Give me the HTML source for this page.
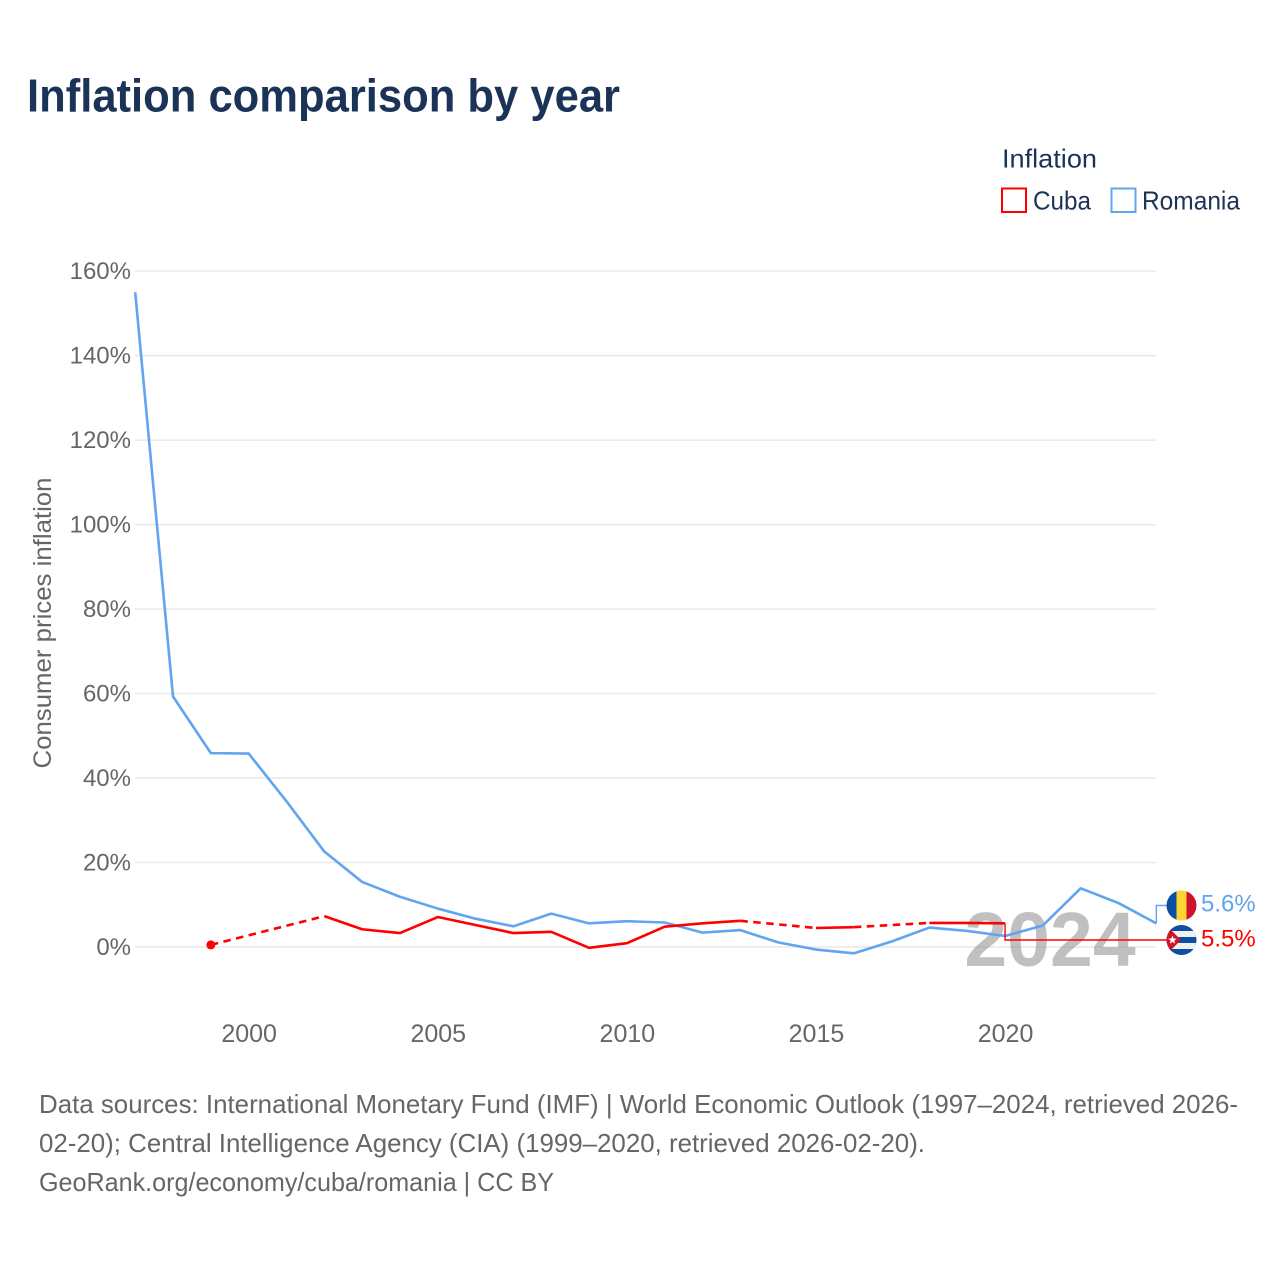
<!DOCTYPE html>
<html lang="en">
<head>
<meta charset="utf-8">
<title>Inflation comparison by year</title>
<style>
html,body{margin:0;padding:0;background:#fff;}
svg{display:block;font-family:"Liberation Sans",sans-serif;}
</style>
</head>
<body>
<svg id="chart" xmlns="http://www.w3.org/2000/svg" width="1280" height="1280" viewBox="0 0 1280 1280">
  <defs>
    <clipPath id="clip-ro"><circle cx="1181.5" cy="905.5" r="15"/></clipPath>
    <clipPath id="clip-cu"><circle cx="1181.5" cy="940" r="15"/></clipPath>
  </defs>
  <rect width="1280" height="1280" fill="#fff"/>
  <text x="27" y="111.500" font-size="46" font-weight="bold" fill="#1a3357" textLength="593" lengthAdjust="spacingAndGlyphs">Inflation comparison by year</text>

  <g>
    <text x="1002" y="167.500" font-size="26" fill="#1a3357" textLength="95" lengthAdjust="spacingAndGlyphs">Inflation</text>
    <g>
      <rect x="1002" y="188.500" width="24" height="23.500" fill="#fff" stroke="#ff0000" stroke-width="2"/>
      <text x="1033" y="209.500" font-size="26" fill="#1a3357" textLength="58" lengthAdjust="spacingAndGlyphs">Cuba</text>
    </g>
    <g>
      <rect x="1111.500" y="188.500" width="24" height="23.500" fill="#fff" stroke="#60a5ef" stroke-width="2"/>
      <text x="1142" y="209.500" font-size="26" fill="#1a3357" textLength="98" lengthAdjust="spacingAndGlyphs">Romania</text>
    </g>
  </g>

  <g id="grid"></g>
  <g id="yticks"></g>
  <g id="xticks"></g>
  <text transform="translate(51,623) rotate(-90)" text-anchor="middle" font-size="25" fill="#666666" textLength="291" lengthAdjust="spacingAndGlyphs">Consumer prices inflation</text>

  <text id="year-label" x="1050" y="966" text-anchor="middle" font-size="77" font-weight="bold" fill="#8c8c8c" fill-opacity="0.55">2024</text>

  <g id="series"></g>

  <g clip-path="url(#clip-ro)">
    <rect x="1166" y="890" width="10.500" height="31" fill="#0b4ea2"/>
    <rect x="1176.500" y="890" width="10" height="31" fill="#fcd535"/>
    <rect x="1186.500" y="890" width="10.500" height="31" fill="#d0112b"/>
  </g>
  <g clip-path="url(#clip-cu)">
    <rect x="1166" y="925" width="31" height="30" fill="#0b4ea2"/>
    <rect x="1166" y="931" width="31" height="6" fill="#f0f0f0"/>
    <rect x="1166" y="943" width="31" height="6" fill="#f0f0f0"/>
    <polygon points="1166,925 1181,940 1166,955" fill="#cf142b"/>
    <polygon points="1172.500,935.500 1173.600,938.500 1176.800,938.600 1174.300,940.600 1175.200,943.700 1172.500,941.900 1169.800,943.700 1170.700,940.600 1168.200,938.600 1171.400,938.500" fill="#ffffff"/>
  </g>
  <text id="label-ro" x="1201" y="911.500" font-size="24" fill="#60a5ef"></text>
  <text id="label-cu" x="1201" y="946.500" font-size="24" fill="#ff0000"></text>

  <g font-size="26" fill="#666666">
    <text x="39" y="1113" textLength="1199" lengthAdjust="spacingAndGlyphs">Data sources: International Monetary Fund (IMF) | World Economic Outlook (1997–2024, retrieved 2026-</text>
    <text x="39" y="1152" textLength="886" lengthAdjust="spacingAndGlyphs">02-20); Central Intelligence Agency (CIA) (1999–2020, retrieved 2026-02-20).</text>
    <text x="39" y="1191" textLength="515" lengthAdjust="spacingAndGlyphs">GeoRank.org/economy/cuba/romania | CC BY</text>
  </g>
</svg>
<script>
const years = [1997,1998,1999,2000,2001,2002,2003,2004,2005,2006,2007,2008,2009,2010,2011,2012,2013,2014,2015,2016,2017,2018,2019,2020,2021,2022,2023,2024];
const romaniaValues = [155,59.3,45.9,45.8,34.5,22.6,15.4,11.9,9.1,6.7,4.9,7.9,5.6,6.1,5.8,3.4,4.0,1.1,-0.6,-1.5,1.3,4.6,3.8,2.6,5.1,13.9,10.4,5.6];
const cubaValues = [null,null,0.5,null,null,7.3,4.2,3.3,7.1,5.2,3.3,3.6,-0.2,0.9,4.8,5.6,6.2,null,4.5,4.7,null,5.7,5.7,5.6,null,null,null,null];
const yTickValues = [0,20,40,60,80,100,120,140,160];
const xTickValues = [2000,2005,2010,2015,2020];
const romaniaEndLabel = '5.6%';
const cubaEndLabel = '5.5%';

const NS = 'http://www.w3.org/2000/svg';
const xScale = function (year) { return 135.2 + (year - 1997) * 37.82; };
const yScale = function (value) { return 947 - value * 4.224; };

function make(parent, tag, attrs) {
  const el = document.createElementNS(NS, tag);
  Object.keys(attrs).forEach(function (k) { el.setAttribute(k, attrs[k]); });
  parent.appendChild(el);
  return el;
}

const grid = document.getElementById('grid');
const yticks = document.getElementById('yticks');
yTickValues.forEach(function (v) {
  const line = make(grid, 'line', {x1: 135, x2: 1156, y1: yScale(v), y2: yScale(v), stroke: '#e9e9e9', 'stroke-width': 1.5});
  
  
  const label = make(yticks, 'text', {x: 131, y: yScale(v) + 8, 'text-anchor': 'end', 'font-size': 24, fill: '#666666'});
  
  
  label.textContent = v + '%';
});

const xticks = document.getElementById('xticks');
xTickValues.forEach(function (y) {
  const label = make(xticks, 'text', {x: xScale(y) + 0.5, y: 1042, 'text-anchor': 'middle', 'font-size': 25, fill: '#666666'});
  
  
  label.textContent = y;
});

function drawSeries(values, color, name) {
  const series = document.getElementById('series');
  const known = [];
  values.forEach(function (v, i) { if (v !== null) known.push(i); });
  let run = [];
  function flush() {
    if (run.length > 1) {
      const solid = make(series, 'polyline', {points: run.join(' '), fill: 'none', stroke: color, 'stroke-width': 2.6, 'stroke-linejoin': 'round'});
      
      
    }
    run = [];
  }
  known.forEach(function (idx, k) {
    const p = xScale(years[idx]) + ',' + yScale(values[idx]);
    if (k > 0 && idx - known[k - 1] > 1) {
      flush();
      const prev = known[k - 1];
      const dash = make(series, 'line', {x1: xScale(years[prev]), y1: yScale(values[prev]), x2: xScale(years[idx]), y2: yScale(values[idx]), stroke: color, 'stroke-width': 2.6, 'stroke-dasharray': '7.500 5.500'});
      
      
    }
    run.push(p);
  });
  flush();
  if (known.length) {
    const first = known[0];
    if (known[1] - first > 1) {
      const dot = make(series, 'circle', {cx: xScale(years[first]), cy: yScale(values[first]), r: 4.5, fill: color});
      
      
    }
  }
}
drawSeries(romaniaValues, '#60a5ef', 'romania');
drawSeries(cubaValues, '#ff0000', 'cuba');

function lastKnown(values) {
  for (let i = values.length - 1; i >= 0; i--) { if (values[i] !== null) return i; }
  return -1;
}
const series = document.getElementById('series');
const roEnd = lastKnown(romaniaValues);
const roConnector = make(series, 'polyline', {
  points: xScale(years[roEnd]) + ',' + yScale(romaniaValues[roEnd]) + ' ' + xScale(years[roEnd]) + ',905.5 1167,905.5',
  fill: 'none', stroke: '#60a5ef', 'stroke-width': 1.4
});


const cuEnd = lastKnown(cubaValues);
const cuConnector = make(series, 'polyline', {
  points: xScale(years[cuEnd]) + ',' + yScale(cubaValues[cuEnd]) + ' ' + xScale(years[cuEnd]) + ',940 1167,940',
  fill: 'none', stroke: '#ff0000', 'stroke-width': 1.4
});



document.getElementById('label-ro').textContent = romaniaEndLabel;
document.getElementById('label-cu').textContent = cubaEndLabel;
</script>
</body>
</html>
